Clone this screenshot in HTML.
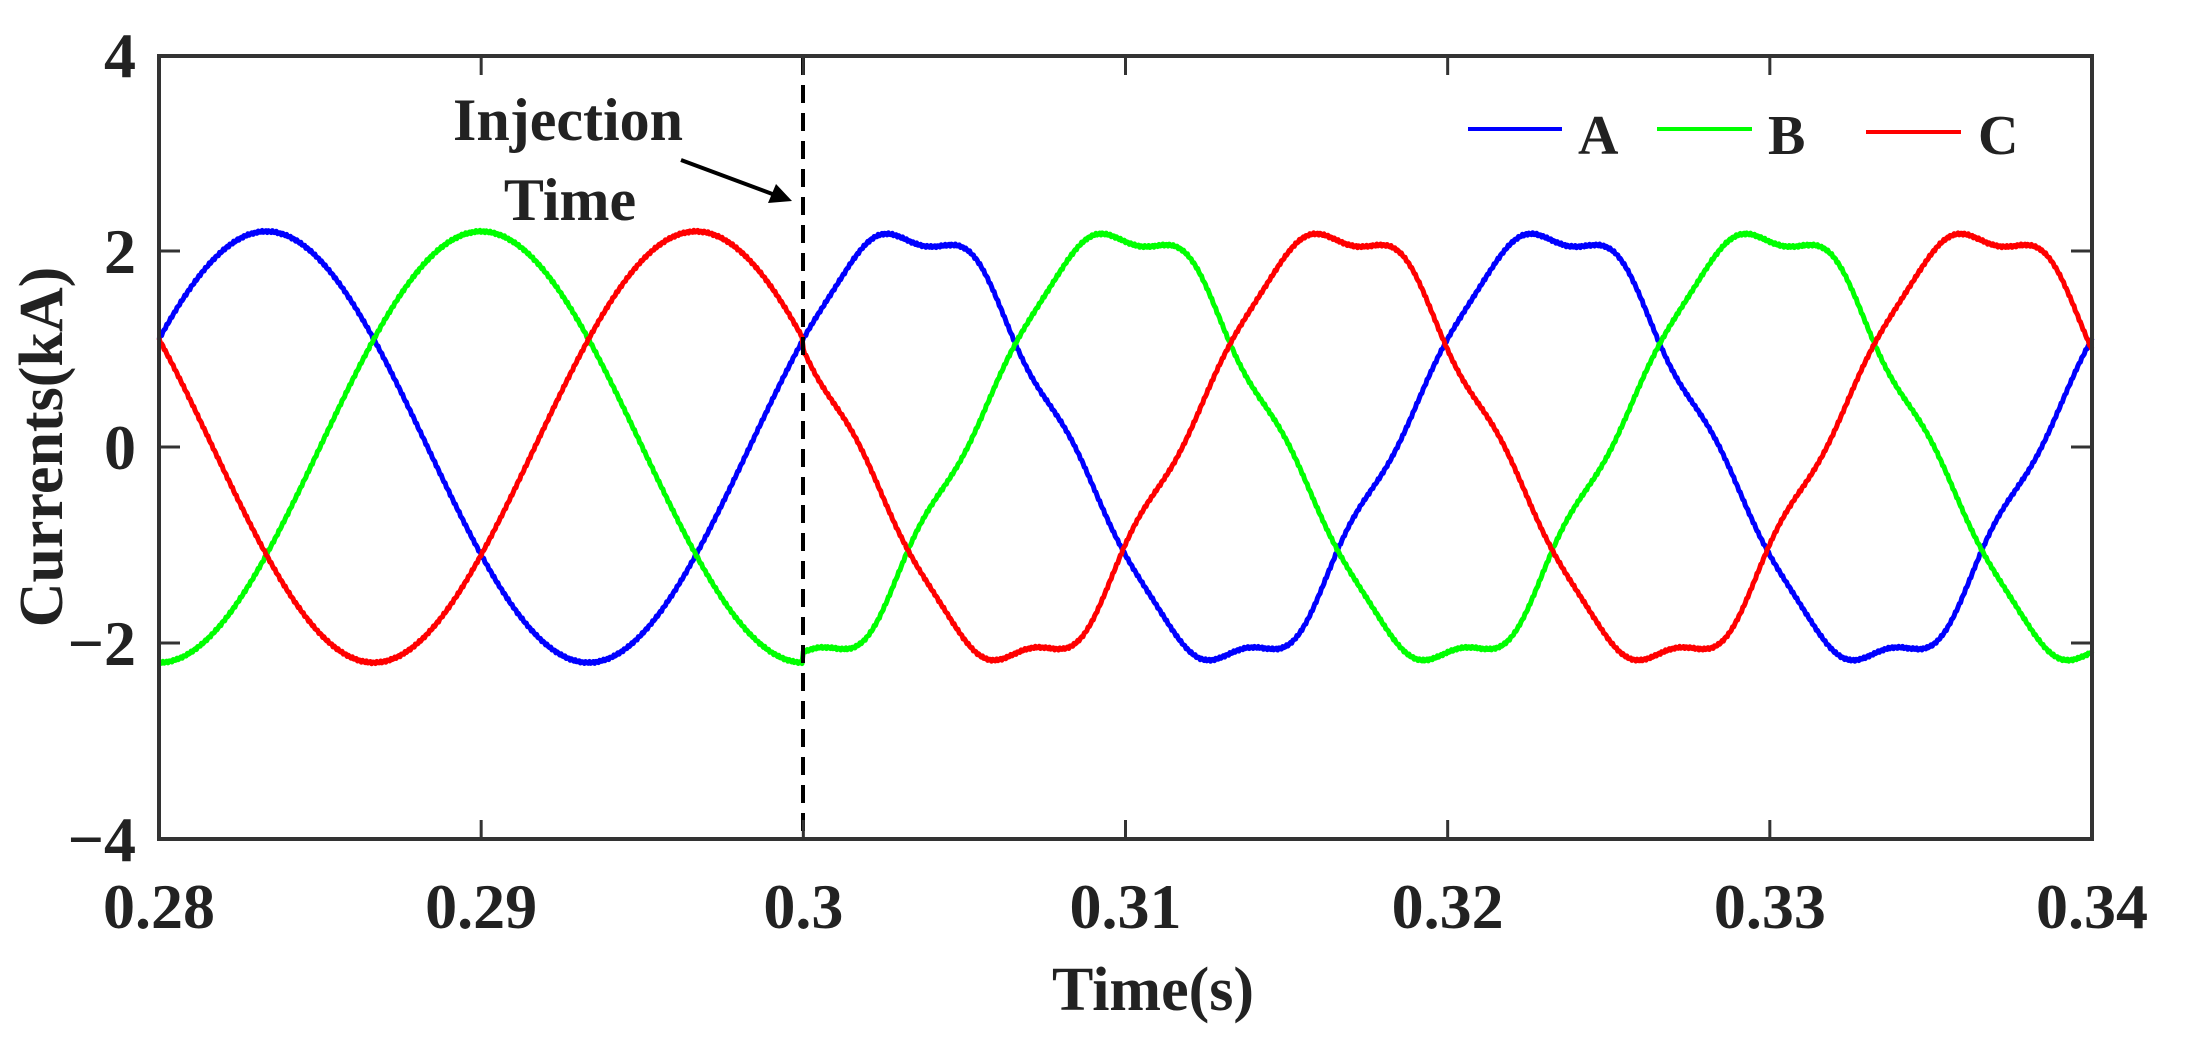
<!DOCTYPE html>
<html><head><meta charset="utf-8"><style>
html,body{margin:0;padding:0;background:#fff;}
svg{display:block;}
text{font-family:"Liberation Serif",serif;font-weight:bold;fill:#222;}
</style></head><body>
<svg id="s" width="2191" height="1048" viewBox="0 0 2191 1048" xmlns="http://www.w3.org/2000/svg">
<rect x="0" y="0" width="2191" height="1048" fill="#fff"/>
<g id="curves" fill="none" stroke-width="5" stroke-linejoin="round"></g>
<line x1="803" y1="57" x2="803" y2="838" stroke="#000" stroke-width="4" stroke-dasharray="18,10"/>
<rect x="159" y="56" width="1933" height="783" fill="none" stroke="#333" stroke-width="4"/>
<g stroke="#333" stroke-width="3" id="ticks"></g>
<g font-size="64" text-anchor="middle" id="xl"></g>
<g font-size="64" text-anchor="end">
<text x="136" y="77">4</text>
<text x="136" y="273">2</text>
<text x="136" y="469">0</text>
<text x="136" y="665">−2</text>
<text x="136" y="861">−4</text>
</g>
<text x="1153" y="1010" font-size="62" text-anchor="middle">Time(s)</text>
<text transform="translate(62,447) rotate(-90)" font-size="62" text-anchor="middle">Currents(kA)</text>
<text x="568" y="140" font-size="60" text-anchor="middle">Injection</text>
<text x="570" y="220" font-size="60" text-anchor="middle">Time</text>
<line x1="681" y1="160" x2="775" y2="195" stroke="#000" stroke-width="4"/>
<polygon points="792,201 768,203 776,184" fill="#000"/>
<line x1="1468" y1="129" x2="1562" y2="129" stroke="#00f" stroke-width="4"/>
<line x1="1657" y1="129" x2="1752" y2="129" stroke="#0f0" stroke-width="4"/>
<line x1="1866" y1="132" x2="1961" y2="132" stroke="#f00" stroke-width="4"/>
<g font-size="56"><text x="1578" y="154">A</text><text x="1768" y="154">B</text><text x="1978" y="154">C</text></g>
</svg>
<script>
var X0=159,X1=2092,Y0=447,K=98;
function px(t){return X0+(t-0.28)/0.06*(X1-X0);}
var g=document.getElementById('curves');
var cols=['#00f','#0f0','#f00'],ph=[Math.PI/6,Math.PI/6-2*Math.PI/3,Math.PI/6+2*Math.PI/3];
for(var k=0;k<3;k++){var d='';
for(var i=0;i<=1500;i++){var t=0.28+0.06*i/1500;var th=2*Math.PI*50*(t-0.28)+ph[k];
var v=2.2*Math.sin(th);
if(t>0.3){v=2.2*Math.sin(th)-0.08*Math.sin(5*th)+0.07*Math.sin(7*th-1.2);}
v+=0.012*Math.sin(i*2.3+k);
d+=(i?'L':'M')+px(t).toFixed(1)+','+(Y0-v*K).toFixed(1);}
var p=document.createElementNS('http://www.w3.org/2000/svg','path');p.setAttribute('d',d);p.setAttribute('stroke',cols[k]);g.appendChild(p);}
var tk=document.getElementById('ticks'),xl=document.getElementById('xl');
var labs=['0.28','0.29','0.3','0.31','0.32','0.33','0.34'];
for(var j=0;j<7;j++){var x=px(0.28+0.01*j);
if(j>0&&j<6){tk.innerHTML+='<line x1="'+x+'" y1="839" x2="'+x+'" y2="820"/><line x1="'+x+'" y1="56" x2="'+x+'" y2="75"/>';}
xl.innerHTML+='<text x="'+x+'" y="928">'+labs[j]+'</text>';}
[251,447,643].forEach(function(y){tk.innerHTML+='<line x1="159" y1="'+y+'" x2="180" y2="'+y+'"/><line x1="2092" y1="'+y+'" x2="2071" y2="'+y+'"/>';});
</script>
</body></html>
